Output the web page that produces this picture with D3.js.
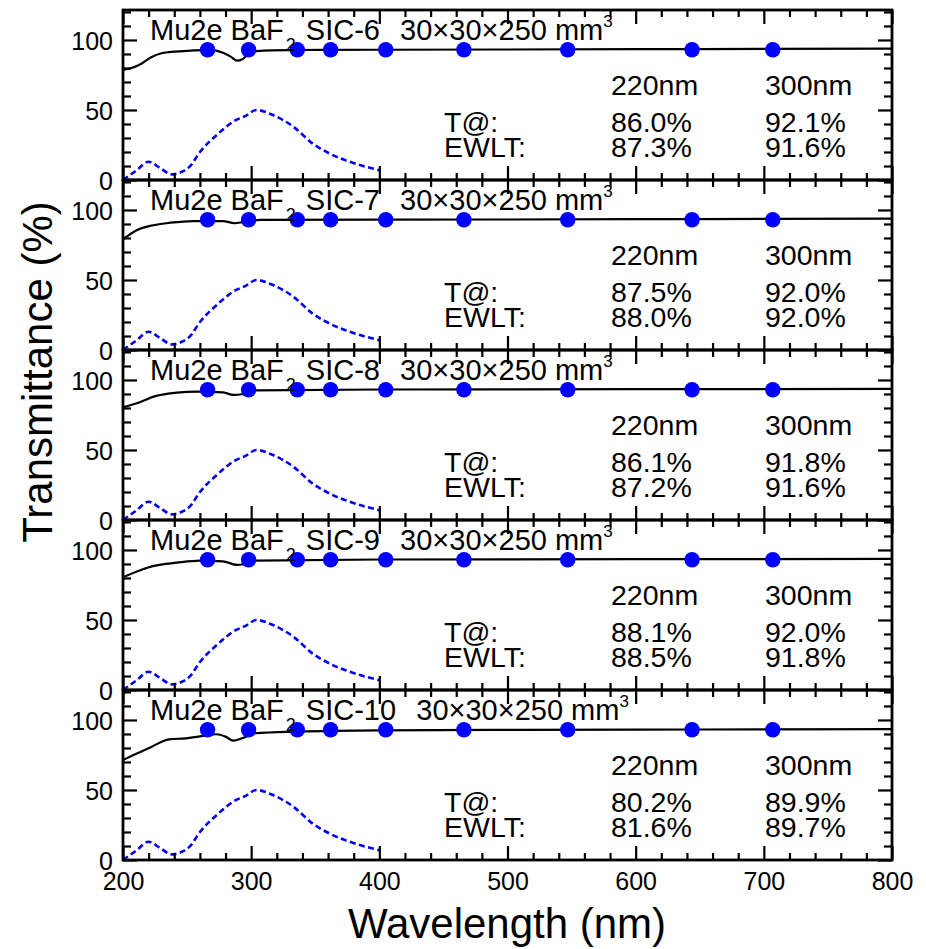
<!DOCTYPE html>
<html><head><meta charset="utf-8">
<script src="https://cdn.jsdelivr.net/npm/d3@7"></script>
<style>
html,body{margin:0;padding:0;background:#fff;}
text{font-family:"Liberation Sans",Arial,Helvetica,sans-serif;fill:#000;white-space:pre;}
</style></head>
<body>
<svg id="chart" width="926" height="949"></svg>
<script>
// ---------- data ----------
const sampleNames = ["SIC-6", "SIC-7", "SIC-8", "SIC-9", "SIC-10"];
const T220 = ["86.0%", "87.5%", "86.1%", "88.1%", "80.2%"];
const T300 = ["92.1%", "92.0%", "91.8%", "92.0%", "89.9%"];
const EWLT220 = ["87.3%", "88.0%", "87.2%", "88.5%", "81.6%"];
const EWLT300 = ["91.6%", "92.0%", "91.6%", "91.8%", "89.7%"];

// measured transmittance curves (wavelength nm, transmittance %)
const wl6 = [200, 206, 214, 222, 230, 240, 253, 268, 278, 284, 289, 293, 297, 304, 330, 400, 500, 600, 700, 800];
const tr6 = [78.6, 79.8, 82.9, 87.6, 90.5, 91.7, 92.4, 92.9, 90.9, 88.1, 85.2, 86.2, 89.3, 92.1, 92.8, 93.0, 93.2, 93.4, 93.6, 93.8];
const wl7 = [200, 211, 221, 237, 255, 278, 287, 294, 307, 400, 500, 600, 700, 800];
const tr7 = [79.0, 85.7, 88.6, 90.9, 92.1, 92.1, 90.5, 91.4, 92.9, 93.1, 93.2, 93.4, 93.6, 93.8];
const wl8 = [200, 214, 224, 242, 258, 278, 286, 294, 304, 400, 500, 600, 700, 800];
const tr8 = [80.5, 84.5, 88.1, 90.9, 91.7, 91.2, 89.3, 90.0, 92.6, 93.2, 93.3, 93.4, 93.5, 93.7];
const wl9 = [200, 214, 224, 242, 260, 278, 289, 294, 304, 400, 500, 600, 700, 800];
const tr9 = [80.5, 85.7, 88.6, 90.9, 92.4, 91.9, 89.3, 89.8, 92.4, 93.2, 93.3, 93.4, 93.5, 93.7];
const wl10 = [200, 210, 220, 236, 249, 259, 273, 280, 286, 293, 303, 337, 400, 500, 600, 700, 800];
const tr10 = [71.4, 75.7, 79.8, 86.2, 86.9, 88.1, 89.8, 88.1, 85.2, 86.9, 90.5, 91.7, 92.6, 92.9, 93.1, 93.3, 93.5];

// theoretical transmittance points
const dotWl = [266, 298, 336, 362, 405, 466, 547, 644, 707];
const dotT = [93, 93, 93, 93, 93, 93, 93, 93, 93];

// BaF2 emission spectrum (arbitrary units)
const emWl = [200, 210, 220, 229, 238, 245, 252, 260, 273, 286, 296, 304, 317, 333, 348, 361, 377, 400];
const emV = [0, 6.5, 13, 8.5, 4, 5.5, 9.5, 20, 32, 41.7, 46, 50, 46.4, 38, 26, 19, 13, 7];

const xTicksMajor = [200, 300, 400, 500, 600, 700, 800];
const yTicksMajor = [0, 50, 100];

const curvesWl = [wl6, wl7, wl8, wl9, wl10];
const curvesT = [tr6, tr7, tr8, tr9, tr10];

// ---------- layout ----------
const svg = d3.select("#chart");
const left = 123, right = 892, top0 = 10, ph = 170, nP = 5;
const x = d3.scaleLinear().domain([200, 800]).range([left, right]);
const xMinor = d3.range(200, 801, 20);
const yMinor = d3.range(0, 121, 10);

for (let i = 0; i < nP; i++) {
  const pt = top0 + i * ph, pb = pt + ph;
  const y = d3.scaleLinear().domain([0, 121.4]).range([pb, pt]);
  const g = svg.append("g");

  // emission (dashed)
  g.append("path")
    .datum(emWl.map((w, k) => [w, emV[k]]))
    .attr("fill", "none").attr("stroke", "#0000ff").attr("stroke-width", 2.6)
    .attr("stroke-dasharray", "6,3.5")
    .attr("d", d3.line().x(d => x(d[0])).y(d => y(d[1])).curve(d3.curveMonotoneX));

  // transmittance curve
  g.append("path")
    .datum(curvesWl[i].map((w, k) => [w, curvesT[i][k]]))
    .attr("fill", "none").attr("stroke", "#000").attr("stroke-width", 2.2)
    .attr("d", d3.line().x(d => x(d[0])).y(d => y(d[1])).curve(d3.curveMonotoneX));

  // dots
  g.selectAll("circle.dot").data(dotWl.map((w, k) => [w, dotT[k]])).enter()
    .append("circle").attr("class", "dot")
    .attr("cx", d => x(d[0])).attr("cy", d => y(d[1])).attr("r", 7.7)
    .attr("fill", "#0000ff");

  // axes (ticks pointing inward)
  const mk = (sel) => { sel.select(".domain").remove(); sel.selectAll(".tick line").attr("stroke", "#000").attr("stroke-width", 2.2); sel.selectAll("text").style("font-size", "25px").attr("font-family", null); };
  g.append("g").attr("transform", `translate(${left},0)`)
    .call(d3.axisLeft(y).tickValues(yMinor.filter(v => v % 50 !== 0)).tickSize(-8).tickFormat(""))
    .call(mk);
  g.append("g").attr("transform", `translate(${left},0)`)
    .call(d3.axisLeft(y).tickValues(yTicksMajor).tickSize(-14).tickPadding(10).tickFormat(d3.format("d")))
    .call(mk)
    .call(s => s.selectAll("text").attr("dy", "0.37em"));
  g.append("g").attr("transform", `translate(${right},0)`)
    .call(d3.axisRight(y).tickValues(yMinor.filter(v => v % 50 !== 0)).tickSize(-8).tickFormat(""))
    .call(mk);
  g.append("g").attr("transform", `translate(${right},0)`)
    .call(d3.axisRight(y).tickValues(yTicksMajor).tickSize(-14).tickFormat(""))
    .call(mk);
  g.append("g").attr("transform", `translate(0,${pt})`)
    .call(d3.axisTop(x).tickValues(xMinor.filter(v => v % 100 !== 0)).tickSize(-7).tickFormat(""))
    .call(mk);
  g.append("g").attr("transform", `translate(0,${pt})`)
    .call(d3.axisTop(x).tickValues(xTicksMajor).tickSize(-14).tickFormat(""))
    .call(mk);
  g.append("g").attr("transform", `translate(0,${pb})`)
    .call(d3.axisBottom(x).tickValues(xMinor.filter(v => v % 100 !== 0)).tickSize(-7).tickFormat(""))
    .call(mk);
  g.append("g").attr("transform", `translate(0,${pb})`)
    .call(d3.axisBottom(x).tickValues(xTicksMajor).tickSize(-14).tickPadding(12)
      .tickFormat(i === nP - 1 ? d3.format("d") : ""))
    .call(mk);

  // frame
  g.append("rect").attr("x", left).attr("y", pt).attr("width", right - left).attr("height", ph)
    .attr("fill", "none").attr("stroke", "#000").attr("stroke-width", 2.8);

  // title
  const t = g.append("text").attr("x", 150).attr("y", pt + 30).style("font-size", "29px");
  t.append("tspan").text("Mu2e BaF");
  t.append("tspan").attr("dy", 11).attr("dx", 2).style("font-size", "18px").text("2");
  t.append("tspan").attr("dy", -11).attr("dx", 2).text(" " + sampleNames[i]);
  t.append("tspan").attr("dx", 4).text("  30×30×250 mm");
  t.append("tspan").attr("dy", -13).style("font-size", "17px").text("3");

  // stats
  const fs = "28.5px";
  g.append("text").attr("x", 611).attr("y", pt + 85).style("font-size", fs).text("220nm");
  g.append("text").attr("x", 765).attr("y", pt + 85).style("font-size", fs).text("300nm");
  g.append("text").attr("x", 444).attr("y", pt + 122).style("font-size", fs).text("T@:");
  g.append("text").attr("x", 444).attr("y", pt + 147).style("font-size", fs).text("EWLT:");
  g.append("text").attr("x", 611).attr("y", pt + 122).style("font-size", fs).text(T220[i]);
  g.append("text").attr("x", 765).attr("y", pt + 122).style("font-size", fs).text(T300[i]);
  g.append("text").attr("x", 611).attr("y", pt + 147).style("font-size", fs).text(EWLT220[i]);
  g.append("text").attr("x", 765).attr("y", pt + 147).style("font-size", fs).text(EWLT300[i]);
}

// axis titles
svg.append("text").attr("transform", "translate(52,372) rotate(-90)")
  .attr("text-anchor", "middle").style("font-size", "42px").text("Transmittance (%)");
svg.append("text").attr("x", 507).attr("y", 938)
  .attr("text-anchor", "middle").style("font-size", "42px").text("Wavelength (nm)");
</script>
</body></html>
